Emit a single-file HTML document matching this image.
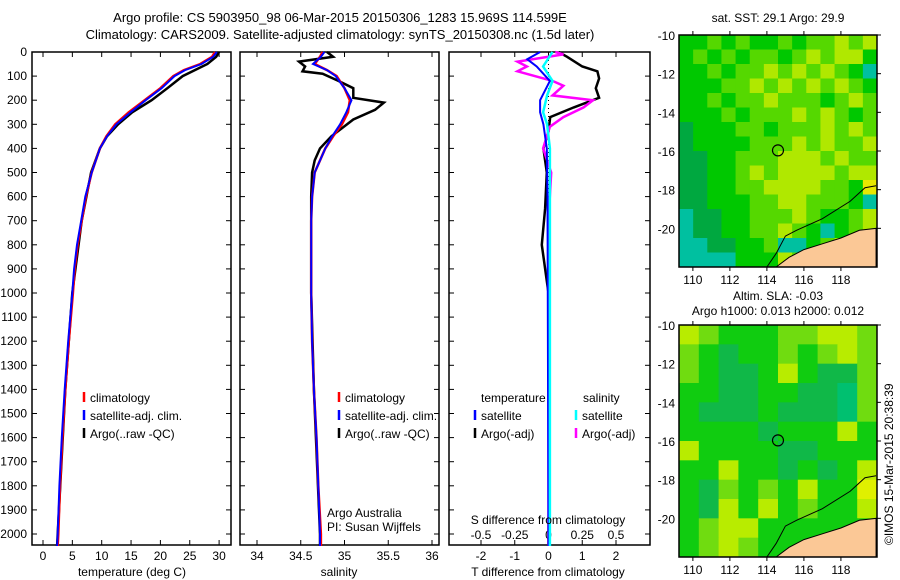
<!DOCTYPE html>
<html><head><meta charset="utf-8"><style>
body{margin:0;background:#fff}
svg{display:block;font-family:"Liberation Sans",sans-serif;font-size:12px}
</style></head><body>
<svg id="c" width="900" height="580" viewBox="0 0 900 580">
<text x="340" y="22" text-anchor="middle" font-size="13">Argo profile: CS 5903950_98 06-Mar-2015 20150306_1283 15.969S 114.599E</text>
<text x="340" y="39" text-anchor="middle" font-size="13">Climatology: CARS2009. Satellite-adjusted climatology: synTS_20150308.nc (1.5d later)</text>
<g id="p1"></g>
<g id="p2"></g>
<g id="p3"></g>
<g id="m1"></g>
<g id="m2"></g>
<text x="778" y="22" text-anchor="middle">sat. SST: 29.1 Argo: 29.9</text>
<text x="778" y="300" text-anchor="middle">Altim. SLA: -0.03</text>
<text x="778" y="315" text-anchor="middle">Argo h1000: 0.013 h2000: 0.012</text>
<text transform="translate(893,545) rotate(-90)" font-size="12">©IMOS 15-Mar-2015 20:38:39</text>
</svg>
<script>
const depthTicks=[0,100,200,300,400,500,600,700,800,900,1000,1100,1200,1300,1400,1500,1600,1700,1800,1900,2000];
const climDepth=[0,20,50,75,100,150,200,250,300,350,400,500,600,700,800,900,1000,1200,1400,1600,1800,2000,2050];
const climTemp=[29.3,28.8,26.8,24,22.2,20,17.3,14.6,12.3,10.8,9.7,8.3,7.3,6.6,5.9,5.4,5.1,4.4,3.8,3.3,2.9,2.6,2.5];
const satTemp=[29.6,29,27,24.2,22.4,20.2,17.5,14.9,12.5,10.9,9.7,8.3,7.2,6.5,5.8,5.3,5.0,4.3,3.7,3.2,2.8,2.5,2.4];
const argoDepth=[0,20,50,100,150,200,250,300,350,400,500,700,1000,1400,2000,2050];
const argoTemp=[30,29.5,28,23.8,21.2,18.5,15.2,12.8,10.9,9.7,8.2,6.6,5.0,3.8,2.5,2.4];
const tempTicks=[0,5,10,15,20,25,30];
const salClim=[34.75,34.72,34.66,34.8,34.91,35.0,35.06,35.04,34.97,34.87,34.78,34.66,34.63,34.62,34.62,34.62,34.62,34.63,34.65,34.68,34.7,34.73,34.73];
const salSat=[34.77,34.73,34.64,34.8,34.9,35.0,35.08,35.02,34.95,34.86,34.78,34.66,34.63,34.62,34.62,34.62,34.62,34.63,34.65,34.68,34.7,34.72,34.72];
const salArgoDepth=[0,20,40,60,80,90,120,150,190,210,240,280,350,400,450,500,600,1000,1400,2000,2050];
const salArgo=[34.8,34.87,34.48,34.55,34.52,34.75,34.93,35.1,35.1,35.45,35.35,35.1,34.85,34.72,34.66,34.63,34.62,34.62,34.65,34.72,34.72];
const salTicks=[34,34.5,35,35.5,36];
const dTDepth=[0,20,60,80,110,150,190,230,270,330,400,500,650,800,950,1000,1400,2050];
const dTArgo=[0.3,0.55,1.0,1.45,1.5,1.4,1.5,0.75,0.05,0,-0.15,-0.05,-0.1,-0.2,-0.05,0,0.03,0];
const dTSatDepth=[0,30,60,120,200,250,300,400,600,2050];
const dTSat=[-0.25,-0.63,-0.35,0.04,-0.25,-0.25,-0.15,-0.05,-0.03,0];
const dSDepth=[0,10,40,60,80,120,140,180,200,230,270,310,400,500,700,2050];
const dSArgo=[0.05,0.11,-0.23,-0.16,-0.23,0.03,0.11,0.03,0.33,0.26,0.11,0.01,-0.04,0.02,0,0];
const dSSatDepth=[0,60,120,180,250,300,400,2050];
const dSSat=[0.03,-0.04,0.03,-0.01,-0.04,-0.01,0.01,0.01];
const tDiffTicks=[-2,-1,0,1,2];
const sDiffTicks=[-0.5,-0.25,0,0.25,0.5];
const mapLonTicks=[110,112,114,116,118];
const mapLatTicks=[-10,-12,-14,-16,-18,-20];
const sstGrid=["11212112122323","12121221232331","11212232323215","11122323232321","11212232221232","11121222323212","01112212223232","01111222323223","00112223332322","00112323333233","00112233332214","00111223322215","50011222321123","50011223215123","55001125512333","55551113223333"];
const slaGrid=["3211122332","2101121232","2100131002","1100110052","1000100052","1111011131","3111100111","1131101013","1021213114","1031312113","1233111111","1232111111"];
const landLon=[114.5,115.2,116,117,118,119,119.9,119.9];
const landLat=[-22,-21.5,-21.1,-20.8,-20.5,-20.1,-20,-22];
const coastLon=[114,114.5,115,115.6,117,118.5,119.3,119.9];
const coastLat=[-22,-21.3,-20.4,-20.1,-19.5,-18.6,-17.9,-17.8];
const argoLon=114.599, argoLat=-15.969;

const NS='http://www.w3.org/2000/svg';
function mk(parent,tag,attrs){const e=document.createElementNS(NS,tag);for(const k in attrs)e.setAttribute(k,attrs[k]);parent.appendChild(e);return e;}
const Y0=52,Y1=545;
function yD(d){return Y0+d*0.241;}
function frame(g,x0,x1,name){
  const r=mk(g,'rect',{x:x0,y:Y0,width:x1-x0,height:Y1-Y0,fill:'none',stroke:'#000','stroke-width':1.5});
  
  
  depthTicks.forEach(d=>{mk(g,'line',{x1:x0,x2:x0+5,y1:yD(d),y2:yD(d),stroke:'#000'});mk(g,'line',{x1:x1-5,x2:x1,y1:yD(d),y2:yD(d),stroke:'#000'});});
}
function line(g,xs,ds,fx,col,w,name){
  const pts=xs.map((v,i)=>fx(v).toFixed(1)+','+yD(ds[i]).toFixed(1)).join(' ');
  const p=mk(g,'polyline',{points:pts,fill:'none',stroke:col,'stroke-width':w});
  
  
}
function txt(g,x,y,s,anchor,name){const t=mk(g,'text',{x:x,y:y,'text-anchor':anchor||'start'});t.textContent=s;
  
  return t;}
function legend(g,x,y,col,s){mk(g,'line',{x1:x,x2:x,y1:y-10,y2:y,stroke:col,'stroke-width':2.5});txt(g,x+6,y,s,'start','legend-entry');}

const p1=document.getElementById('p1');
const xT=v=>43+v*5.87;
frame(p1,32,231,'temperature-frame');
depthTicks.forEach(d=>txt(p1,27,yD(d)+4,String(d),'end','depth-tick-label'));
tempTicks.forEach(t=>{mk(p1,'line',{x1:xT(t),x2:xT(t),y1:Y1,y2:Y1-5,stroke:'#000'});mk(p1,'line',{x1:xT(t),x2:xT(t),y1:Y0,y2:Y0+5,stroke:'#000'});txt(p1,xT(t),560,String(t),'middle','temp-tick-label');});
line(p1,argoTemp,argoDepth,xT,'#000',2.5,'argo-temp-line');
line(p1,climTemp,climDepth,xT,'#f00',2.5,'clim-temp-line');
line(p1,satTemp,climDepth,xT,'#00f',2,'sat-temp-line');
txt(p1,132,576,'temperature (deg C)','middle','x-axis-title');
legend(p1,84,402,'#f00','climatology');legend(p1,84,420,'#00f','satellite-adj. clim.');legend(p1,84,438,'#000','Argo(..raw -QC)');

const p2=document.getElementById('p2');
const xS=v=>257+(v-34)*87.5;
frame(p2,240,439,'salinity-frame');
salTicks.forEach(t=>{mk(p2,'line',{x1:xS(t),x2:xS(t),y1:Y1,y2:Y1-5,stroke:'#000'});mk(p2,'line',{x1:xS(t),x2:xS(t),y1:Y0,y2:Y0+5,stroke:'#000'});txt(p2,xS(t),560,String(t),'middle','sal-tick-label');});
line(p2,salArgo,salArgoDepth,xS,'#000',2.5,'argo-sal-line');
line(p2,salClim,climDepth,xS,'#f00',2.5,'clim-sal-line');
line(p2,salSat,climDepth,xS,'#00f',2,'sat-sal-line');
txt(p2,339,576,'salinity','middle','x-axis-title');
legend(p2,339,402,'#f00','climatology');legend(p2,339,420,'#00f','satellite-adj. clim.');legend(p2,339,438,'#000','Argo(..raw -QC)');
txt(p2,327,517,'Argo Australia','start','credit');txt(p2,327,531,'PI: Susan Wijffels','start','pi-credit');

const p3=document.getElementById('p3');
const xTd=v=>548.5+v*33.75, xSd=v=>548.5+v*135;
frame(p3,449,650,'difference-frame');
tDiffTicks.forEach(t=>{mk(p3,'line',{x1:xTd(t),x2:xTd(t),y1:Y1,y2:Y1-5,stroke:'#000'});txt(p3,xTd(t),560,String(t),'middle','tdiff-tick-label');});
sDiffTicks.forEach(t=>{mk(p3,'line',{x1:xSd(t),x2:xSd(t),y1:Y0,y2:Y0+5,stroke:'#000'});txt(p3,xSd(t),539,String(t),'middle','sdiff-tick-label');});
mk(p3,'line',{x1:548.5,x2:548.5,y1:Y0,y2:Y1,stroke:'#000','stroke-dasharray':'1,3'});
line(p3,dTArgo,dTDepth,xTd,'#000',2.5,'argo-tdiff-line');
line(p3,dSArgo,dSDepth,xSd,'#f0f',2.5,'argo-sdiff-line');
line(p3,dTSat,dTSatDepth,xTd,'#00f',2,'sat-tdiff-line');
line(p3,dSSat,dSSatDepth,xSd,'#0ff',2.5,'sat-sdiff-line');
txt(p3,548,576,'T difference from climatology','middle','x-axis-title');
txt(p3,548,524,'S difference from climatology','middle','s-axis-title');
txt(p3,481,402,'temperature','start','legend-header');txt(p3,583,402,'salinity','start','legend-header');
legend(p3,475,420,'#00f','satellite');legend(p3,475,438,'#000','Argo(-adj)');
legend(p3,576,420,'#0ff','satellite');legend(p3,576,438,'#f0f','Argo(-adj)');

const LON0=109.25,LON1=119.95,LAT0=-10,LAT1=-22;
function drawMap(id,top,grid,pal){
  const g=document.getElementById(id);
  const X0=679,X1=877,Yt=top,Yb=top+232;
  const mx=lo=>X0+(lo-LON0)/(LON1-LON0)*(X1-X0);
  const my=la=>Yt+(la-LAT0)/(LAT1-LAT0)*(Yb-Yt);
  const rows=grid.length,cols=grid[0].length;
  const cw=(X1-X0)/cols,ch=(Yb-Yt)/rows;
  grid.forEach((row,r)=>{for(let c=0;c<cols;c++){
    const cell=mk(g,'rect',{x:(X0+c*cw).toFixed(2),y:(Yt+r*ch).toFixed(2),width:(cw+0.5).toFixed(2),height:(ch+0.5).toFixed(2),fill:pal[row[c]]||'#10cc10'});
    
    }});
  const land=mk(g,'polygon',{points:landLon.map((v,i)=>mx(v)+','+my(landLat[i])).join(' '),fill:'#fbc896',stroke:'#000','stroke-width':1});
  
  
  const coast=mk(g,'polyline',{points:coastLon.map((v,i)=>mx(v)+','+my(coastLat[i])).join(' '),fill:'none',stroke:'#000','stroke-width':1});
  
  
  const dot=mk(g,'circle',{cx:mx(argoLon),cy:my(argoLat),r:5.5,fill:'none',stroke:'#000','stroke-width':1.2});
  
  
  const fr=mk(g,'rect',{x:X0,y:Yt,width:X1-X0,height:Yb-Yt,fill:'none',stroke:'#000','stroke-width':1.5});
  
  
  mapLonTicks.forEach(lo=>{mk(g,'line',{x1:mx(lo),x2:mx(lo),y1:Yt,y2:Yt-4,stroke:'#000'});mk(g,'line',{x1:mx(lo),x2:mx(lo),y1:Yb,y2:Yb+4,stroke:'#000'});txt(g,mx(lo),Yb+17,String(lo),'middle','lon-tick-label');});
  mapLatTicks.forEach(la=>{mk(g,'line',{x1:X1,x2:X1+4,y1:my(la),y2:my(la),stroke:'#000'});txt(g,X0-4,my(la)+5,String(la),'end','lat-tick-label');});
}
drawMap('m1',35,sstGrid,{'0':'#00a840','1':'#00c800','2':'#55d800','3':'#b0e800','4':'#e8e800','5':'#00c0a0'});
drawMap('m2',325,slaGrid,{'0':'#10b848','1':'#10cc10','2':'#70dc10','3':'#b8ec00','4':'#e0f000','5':'#00c070'});
</script>
</body></html>
